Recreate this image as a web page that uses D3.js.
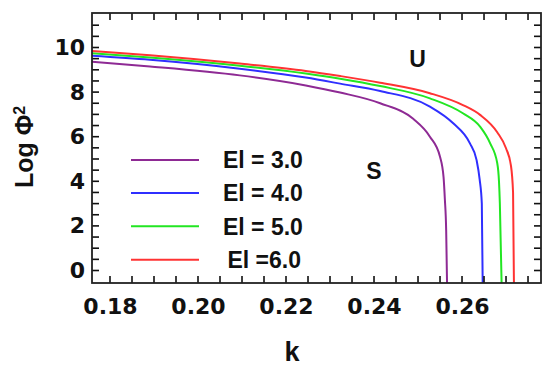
<!DOCTYPE html>
<html>
<head>
<meta charset="utf-8">
<script src="https://cdn.jsdelivr.net/npm/d3@7"></script>
<style>
  html, body { margin: 0; padding: 0; background: #fff; }
  svg { display: block; }
</style>
</head>
<body>
<svg id="chart" width="550" height="368"></svg>
<script>
// ---- data ----
const kEl3 = [0.1759, 0.1891, 0.2095, 0.2245, 0.2323, 0.2414, 0.2489, 0.2527, 0.2550, 0.2558, 0.2561, 0.2564, 0.2566];
const vEl3 = [9.36, 9.15, 8.75, 8.30, 7.98, 7.50, 6.80, 6.00, 5.10, 4.20, 3.20, 1.80, -0.60];

const kEl4 = [0.1759, 0.1891, 0.2095, 0.2245, 0.2323, 0.2414, 0.2527, 0.2580, 0.2618, 0.2633, 0.2640, 0.2645, 0.2647];
const vEl4 = [9.63, 9.45, 9.05, 8.65, 8.38, 8.05, 7.35, 6.60, 5.70, 4.96, 4.10, 3.00, -0.60];

const kEl5 = [0.1759, 0.1891, 0.2095, 0.2245, 0.2323, 0.2414, 0.2527, 0.2602, 0.2641, 0.2664, 0.2680, 0.2684, 0.2686, 0.2690];
const vEl5 = [9.74, 9.55, 9.18, 8.83, 8.60, 8.27, 7.72, 7.05, 6.45, 5.70, 4.82, 4.00, 3.00, -0.60];

const kEl6 = [0.1759, 0.1891, 0.2095, 0.2245, 0.2323, 0.2414, 0.2527, 0.2602, 0.2641, 0.2680, 0.2700, 0.2711, 0.2716, 0.2718];
const vEl6 = [9.84, 9.65, 9.28, 8.95, 8.72, 8.42, 7.95, 7.42, 6.98, 6.20, 5.48, 4.73, 3.50, -0.60];

const seriesNames = ["El = 3.0", "El = 4.0", "El = 5.0", "El =6.0"];
const seriesColors = ["#8e2a94", "#2f2fff", "#22e622", "#ff3333"];

const xTickLabels = [0.18, 0.20, 0.22, 0.24, 0.26];
const yTickLabels = [0, 2, 4, 6, 8, 10];
const xTicks = [0.18, 0.185, 0.19, 0.195, 0.20, 0.205, 0.21, 0.215, 0.22, 0.225, 0.23, 0.235, 0.24, 0.245, 0.25, 0.255, 0.26, 0.265, 0.27, 0.275];
const yTicks = [0, 0.5, 1, 1.5, 2, 2.5, 3, 3.5, 4, 4.5, 5, 5.5, 6, 6.5, 7, 7.5, 8, 8.5, 9, 9.5, 10, 10.5, 11];
const xLabel = "k";

// ---- layout ----
const W = 550, H = 368;
const margin = { left: 92, top: 13, right: 9, bottom: 85 };
const iw = W - margin.left - margin.right;
const ih = H - margin.top - margin.bottom;
const labelFont = "'DejaVu Sans', Verdana, sans-serif";
const textFont = "'Liberation Sans', Arial, sans-serif";

const svg = d3.select("#chart");
const g = svg.append("g").attr("transform", `translate(${margin.left},${margin.top})`);

const x = d3.scaleLinear().domain([0.17591, 0.27795]).range([0, iw]);
const y = d3.scaleLinear().domain([-0.5605, 11.547]).range([ih, 0]);

// clip
svg.append("defs").append("clipPath").attr("id", "clip")
  .append("rect").attr("width", iw).attr("height", ih);

// curves
const series = [
  [kEl3, vEl3], [kEl4, vEl4], [kEl5, vEl5], [kEl6, vEl6]
].map(([ks, vs], i) => ({ pts: ks.map((k, j) => [k, vs[j]]), color: seriesColors[i], name: seriesNames[i] }));

const line = d3.line().x(d => x(d[0])).y(d => y(d[1])).curve(d3.curveMonotoneX);

g.append("g").attr("clip-path", "url(#clip)")
  .selectAll("path").data(series).join("path")
  .attr("d", d => line(d.pts))
  .attr("fill", "none")
  .attr("stroke", d => d.color)
  .attr("stroke-width", 2);

// inward ticks on all four sides
const tickLen = 7, tickW = 1.6;
const tg = g.append("g");
tg.selectAll("rect.xb").data(xTicks).join("rect").attr("class", "xb")
  .attr("x", d => x(d) - tickW / 2).attr("y", ih - tickLen).attr("width", tickW).attr("height", tickLen).attr("fill", "#111");
tg.selectAll("rect.xt").data(xTicks).join("rect").attr("class", "xt")
  .attr("x", d => x(d) - tickW / 2).attr("y", 0).attr("width", tickW).attr("height", tickLen).attr("fill", "#111");
tg.selectAll("rect.yl").data(yTicks).join("rect").attr("class", "yl")
  .attr("x", 0).attr("y", d => y(d) - tickW / 2).attr("width", tickLen).attr("height", tickW).attr("fill", "#111");
tg.selectAll("rect.yr").data(yTicks).join("rect").attr("class", "yr")
  .attr("x", iw - tickLen).attr("y", d => y(d) - tickW / 2).attr("width", tickLen).attr("height", tickW).attr("fill", "#111");

// tick labels
const xLab = d3.axisBottom(x).tickValues(xTickLabels).tickSize(0).tickPadding(15).tickFormat(d3.format(".2f"));
g.append("g").attr("transform", `translate(0,${ih})`).call(xLab)
  .call(s => s.select(".domain").remove())
  .selectAll("text").attr("font-size", 22).attr("font-family", labelFont)
  .attr("font-weight", "bold").attr("fill", "#111");

const yLab = d3.axisLeft(y).tickValues(yTickLabels).tickSize(0).tickPadding(7).tickFormat(d3.format("d"));
g.append("g").call(yLab)
  .call(s => s.select(".domain").remove())
  .selectAll("text").attr("font-size", 22).attr("font-family", labelFont)
  .attr("font-weight", "bold").attr("fill", "#111");

// frame
g.append("rect").attr("width", iw).attr("height", ih)
  .attr("fill", "none").attr("stroke", "#222").attr("stroke-width", 1.8);

// axis titles
svg.append("text").attr("x", 292).attr("y", 361).attr("text-anchor", "middle")
  .attr("font-family", textFont).attr("font-weight", "bold").attr("fill", "#111")
  .attr("font-size", 27).text(xLabel);

const yt = svg.append("text").attr("transform", "translate(33,147) rotate(-90)")
  .attr("text-anchor", "middle").attr("font-size", 25)
  .attr("font-family", textFont).attr("font-weight", "bold").attr("fill", "#111");
yt.append("tspan").text("Log \u03A6");
yt.append("tspan").attr("baseline-shift", "super").attr("font-size", 16).text("2");

// region labels
svg.selectAll("text.region").data([["U", 417.5, 66.5], ["S", 374, 179]]).join("text")
  .attr("class", "region").attr("x", d => d[1]).attr("y", d => d[2])
  .attr("text-anchor", "middle").attr("font-size", 23)
  .attr("font-family", textFont).attr("font-weight", "bold").attr("fill", "#111")
  .text(d => d[0]);

// legend
const legendY = [160, 193, 226.3, 259.7];
const legendTextX = [223, 223, 223, 227.5];
const lg = svg.append("g");
series.forEach((s, i) => {
  lg.append("line").attr("x1", 131).attr("x2", 199)
    .attr("y1", legendY[i]).attr("y2", legendY[i])
    .attr("stroke", s.color).attr("stroke-width", 2);
  lg.append("text").attr("x", legendTextX[i]).attr("y", legendY[i] + 8.3)
    .attr("font-size", 23).attr("font-family", textFont).attr("font-weight", "bold").attr("fill", "#111")
    .text(s.name);
});
</script>
</body>
</html>
